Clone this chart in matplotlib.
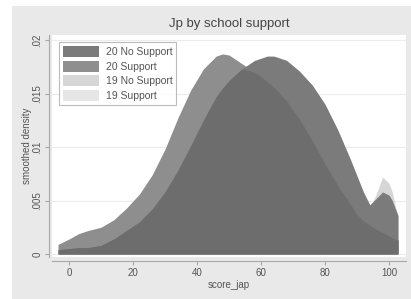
import matplotlib
matplotlib.use("Agg")
import matplotlib.pyplot as plt
import numpy as np
from matplotlib import patches

plt.rcParams['font.family'] = ['Liberation Sans', 'DejaVu Sans']

# score grid and smoothed densities (in units of 0.001)
score = [-3.4, 0, 3, 6, 10, 14, 18, 22, 26, 30, 34, 38, 42, 46, 48, 50, 54,
         58, 62, 64, 68, 72, 76, 80, 84, 88, 90, 92, 94, 96, 98, 100, 101, 102.8]
no_support_20 = [0.4, 0.5, 0.6, 0.6, 0.8, 1.4, 2.2, 3.0, 4.2, 5.8, 7.8, 10.1, 12.5, 14.7, 15.5, 16.2, 17.3,
                 18.1, 18.5, 18.5, 18.1, 17.1, 15.8, 14.0, 11.6, 8.8, 7.3, 5.8, 4.6, 5.2, 5.8, 5.5, 5.0, 3.6]
support_20 = [0.9, 1.4, 1.9, 2.2, 2.5, 3.2, 4.3, 5.6, 7.4, 9.8, 12.7, 15.3, 17.3, 18.5, 18.7, 18.6, 17.8,
              17.0, 16.1, 15.6, 14.3, 12.6, 10.6, 8.4, 6.4, 4.6, 3.7, 3.1, 2.7, 2.3, 2.0, 1.7, 1.5, 1.3]
no_support_19 = [0.3, 0.4, 0.5, 0.5, 0.7, 1.2, 2.0, 2.8, 3.9, 5.4, 7.4, 9.6, 11.9, 14.1, 14.9, 15.6, 16.7,
                 17.6, 18.0, 18.0, 17.6, 16.6, 15.3, 13.5, 11.1, 8.3, 6.8, 5.3, 4.3, 5.6, 7.2, 6.6, 5.8, 3.4]
support_19 = [0.8, 1.3, 1.7, 2.0, 2.3, 3.0, 4.0, 5.3, 7.0, 9.3, 12.2, 14.7, 16.7, 17.9, 18.1, 18.0, 17.2,
              16.4, 15.6, 15.0, 13.8, 12.1, 10.1, 8.0, 6.0, 4.3, 3.4, 2.8, 2.5, 2.1, 1.8, 1.5, 1.3, 1.1]

labels = ['20 No Support', '20 Support', '19 No Support', '19 Support']
yticks = [0, 5, 10, 15, 20]
ytick_labels = ['0', '.005', '.01', '.015', '.02']
xticks = [0, 20, 40, 60, 80, 100]

fig = plt.figure(figsize=(4.11, 2.99), dpi=100)
fig.patch.set_facecolor('white')
# grey graph region (Stata style)
bg = patches.Rectangle((12 / 411, 0), 1, 1 - 6 / 299, transform=fig.transFigure,
                       facecolor='#e9e9e9', edgecolor='none', zorder=-5)
fig.add_artist(bg)

ax = fig.add_axes([52 / 411, 42 / 299, 354 / 411, 222 / 299])
ax.set_zorder(1)
ax.set_facecolor('white')

x = np.array(score)
r = np.array(no_support_20)
l = np.array(support_20)

h4 = ax.fill_between(x, 0, support_19, color='#e6e6e6', lw=0, zorder=2)
h3 = ax.fill_between(x, 0, no_support_19, color='#d6d6d6', lw=0, zorder=3)
h2 = ax.fill_between(x, 0, l, color='#8e8e8e', lw=0, zorder=4)
h1 = ax.fill_between(x, 0, r, color='#7b7b7b', lw=0, zorder=5)
ax.fill_between(x, 0, np.minimum(l, r), color='#6d6d6d', lw=0, zorder=6)

ax.set_xlim(-5.3, 105.3)
ax.set_ylim(-0.28, 20.47)
ax.set_xticks(xticks)
ax.set_yticks(yticks)
ax.set_yticklabels(ytick_labels)
ax.grid(axis='y', color='#ececec', lw=0.8, zorder=1)
ax.set_axisbelow(True)

for s in ['top', 'right']:
    ax.spines[s].set_visible(False)
ax.spines['left'].set_position(('outward', 2))
ax.spines['bottom'].set_position(('outward', 3))
for s in ['left', 'bottom']:
    ax.spines[s].set_color('#a8a8a8')
    ax.spines[s].set_linewidth(0.8)

ax.tick_params(axis='both', colors='#a8a8a8', labelcolor='#555555', labelsize=7,
               length=3, width=0.8, pad=2)
ax.tick_params(axis='y', labelrotation=90)
for t in ax.get_yticklabels():
    t.set_va('center')

ax.set_xlabel('score_jap', fontsize=7, color='#555555', labelpad=1)
ax.set_ylabel('smoothed density', fontsize=7, color='#555555', labelpad=0)
ax.set_title('Jp by school support', fontsize=9.5, color='#444444', pad=6)

leg = ax.legend([h1, h2, h3, h4], labels, loc='upper left', bbox_to_anchor=(0.006, 0.99),
                fontsize=7.5, handlelength=3.5, handleheight=1.3, labelspacing=0.3,
                borderpad=0.35, handletextpad=0.6, frameon=True, fancybox=False)
leg.get_frame().set_edgecolor('#aaaaaa')
leg.get_frame().set_linewidth(0.8)
for t in leg.get_texts():
    t.set_color('#555555')

fig.savefig('out.png', dpi=100)
